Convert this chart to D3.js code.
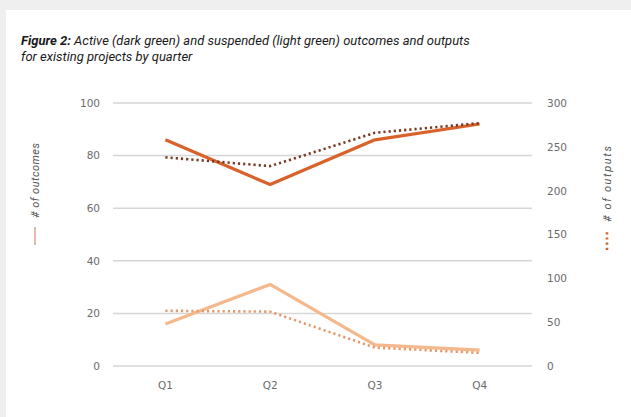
<!DOCTYPE html>
<html>
<head>
<meta charset="utf-8">
<script src="https://cdn.jsdelivr.net/npm/d3@7"></script>
<style>
  html, body { margin: 0; padding: 0; background: #efefef; }
  #card { position: absolute; left: 6px; top: 10px; width: 625px; height: 407px; background: #fff; }
  svg { position: absolute; left: 0; top: 0; }
</style>
</head>
<body>
<div id="card"></div>
<svg id="chart" width="631" height="417"></svg>
<script>
// ----- Data -----
const quarters = ["Q1", "Q2", "Q3", "Q4"];
const activeOutcomes = [86, 69, 86, 92];        // left axis
const activeOutputs = [238, 228, 266, 277];     // right axis
const suspendedOutcomes = [16, 31, 8, 6];        // left axis
const suspendedOutputs = [63, 62, 21, 15];       // right axis
const leftTicks = [0, 20, 40, 60, 80, 100];
const rightTicks = [0, 50, 100, 150, 200, 250, 300];

const svg = d3.select("#chart");

// ----- Title -----
const titleFont = "'Liberation Sans Narrow', 'Roboto', sans-serif";
const title = svg.append("text")
  .attr("x", 21)
  .attr("y", 45)
  .style("font-family", titleFont)
  .style("font-size", "13px")
  .style("font-style", "italic")
  .style("fill", "#1a1a1a");
title.append("tspan").style("font-weight", "700").text("Figure 2:");
title.append("tspan").text(" Active (dark green) and suspended (light green) outcomes and outputs");
svg.append("text")
  .attr("x", 21)
  .attr("y", 61)
  .style("font-family", titleFont)
  .style("font-size", "13px")
  .style("font-style", "italic")
  .style("fill", "#1a1a1a")
  .text("for existing projects by quarter");

// ----- Scales -----
const plotLeft = 113, plotRight = 532, plotTop = 103, plotBottom = 366;

const x = d3.scaleBand()
  .domain(quarters)
  .range([plotLeft, plotRight]);

const yL = d3.scaleLinear().domain([0, 100]).range([plotBottom, plotTop]);
const yR = d3.scaleLinear().domain([0, 300]).range([plotBottom, plotTop]);

// ----- Gridlines -----
svg.append("g")
  .selectAll("line")
  .data(leftTicks)
  .join("line")
  .attr("x1", plotLeft)
  .attr("x2", plotRight)
  .attr("y1", d => yL(d))
  .attr("y2", d => yL(d))
  .attr("stroke", "#d6d6d6")
  .attr("stroke-width", 1.5);

// ----- Axes -----
const tickFont = "'DejaVu Sans', sans-serif";

function styleAxis(g) {
  g.select(".domain").remove();
  g.selectAll("text")
    .style("font-family", tickFont)
    .style("font-size", "10.5px")
    .style("fill", "#6b6b6b");
}

svg.append("g")
  .attr("transform", `translate(${plotLeft - 13},0)`)
  .call(d3.axisLeft(yL).tickValues(leftTicks).tickSize(0).tickPadding(0))
  .call(styleAxis);

svg.append("g")
  .attr("transform", `translate(${plotRight + 15},0)`)
  .call(d3.axisRight(yR).tickValues(rightTicks).tickSize(0).tickPadding(0))
  .call(styleAxis);

svg.append("g")
  .attr("transform", `translate(0,${plotBottom + 16})`)
  .call(d3.axisBottom(x).tickSize(0).tickPadding(0))
  .call(styleAxis);

// ----- Lines -----
const cx = d => x(d) + x.bandwidth() / 2;

function drawLine(values, scale, color, dashed) {
  const line = d3.line()
    .x((d, i) => cx(quarters[i]))
    .y(d => scale(d));
  svg.append("path")
    .datum(values)
    .attr("d", line)
    .attr("fill", "none")
    .attr("stroke", color)
    .attr("stroke-width", dashed ? 2.6 : 3.2)
    .attr("stroke-dasharray", dashed ? "2.2,3" : null)
    .attr("stroke-linejoin", "round");
}

drawLine(suspendedOutcomes, yL, "#f5b88d", false);
drawLine(suspendedOutputs, yR, "#e49a6c", true);
drawLine(activeOutcomes, yL, "#d9622b", false);
drawLine(activeOutputs, yR, "#7a3a22", true);

// ----- Legends (rotated) -----
const legL = svg.append("g").attr("transform", "translate(39,245) rotate(-90)");
legL.append("line")
  .attr("x1", 0).attr("x2", 18)
  .attr("y1", -4).attr("y2", -4)
  .attr("stroke", "#e6a08c").attr("stroke-width", 1.5);
legL.append("text")
  .attr("x", 27)
  .attr("y", 0)
  .attr("textLength", 75)
  .style("font-family", titleFont)
  .style("font-size", "11px")
  .style("font-style", "italic")
  .style("fill", "#555")
  .text("# of outcomes");

const legR = svg.append("g").attr("transform", "translate(611,250) rotate(-90)");
legR.append("line")
  .attr("x1", 0).attr("x2", 18)
  .attr("y1", -4).attr("y2", -4)
  .attr("stroke", "#d9622b").attr("stroke-width", 2.6)
  .attr("stroke-dasharray", "2.2,3");
legR.append("text")
  .attr("x", 28)
  .attr("y", 0)
  .attr("textLength", 76)
  .style("font-family", titleFont)
  .style("font-size", "11px")
  .style("font-style", "italic")
  .style("fill", "#555")
  .text("# of outputs");
</script>
</body>
</html>
